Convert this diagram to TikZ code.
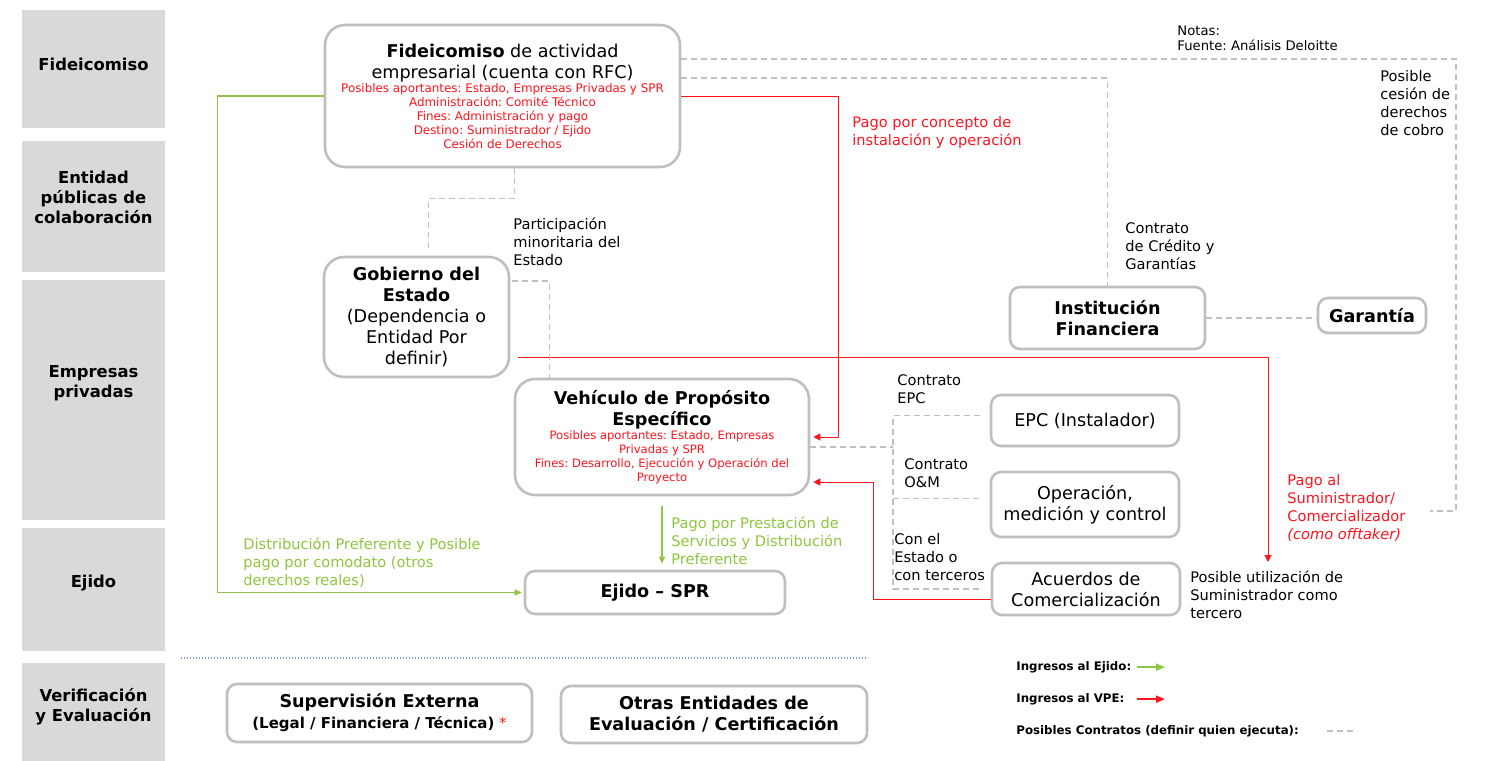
\documentclass[tikz,border=0pt]{standalone}
\usepackage{fontspec}
\setmainfont{DejaVu Sans}
\usetikzlibrary{arrows.meta,calc}
\frenchspacing

\definecolor{bandgray}{RGB}{217,217,217}
\definecolor{boxgray}{RGB}{191,191,191}
\definecolor{dashgray}{RGB}{192,192,192}
\definecolor{payred}{RGB}{255,20,30}
\definecolor{ejidogreen}{RGB}{141,198,63}
\definecolor{sepblue}{RGB}{120,150,210}

\tikzset{
  band/.style={fill=bandgray, inner sep=0pt, minimum width=71.5pt},
  bandlabel/.style={font=\bfseries\fontsize{8.2}{10}\selectfont, align=center, inner sep=0pt},
  entity/.style={draw=boxgray, line width=1.3pt, rounded corners=5pt, fill=white, align=flush center,
    inner sep=3pt, font=\fontsize{8.8}{10.5}\selectfont, execute at begin node={\parindent=0pt\frenchspacing}},
  bigentity/.style={entity, rounded corners=10pt},
  note/.style={anchor=north west, align=left, inner sep=0pt, font=\fontsize{7.3}{9}\selectfont},
  legendtxt/.style={anchor=north west, inner sep=0pt, font=\bfseries\fontsize{5.9}{7}\selectfont},
  contract/.style={draw=dashgray, line width=0.75pt, dash pattern=on 3pt off 2pt},
  ejidoflow/.style={draw=ejidogreen, line width=0.7pt, -{Triangle[length=3.5pt,width=3pt]}},
  vpeflow/.style={draw=payred, line width=0.5pt, -{Triangle[length=3.5pt,width=3.5pt]}},
}

\begin{document}
\begin{tikzpicture}[x=0.5pt,y=0.5pt,yscale=-1,xscale=1]
        \useasboundingbox (0,0) rectangle (1496,761);

        %Shape: Rectangle (row bands)
        \node[band, minimum height=59pt] (bandFid) at (93.5,69) {};
        \node[band, minimum height=65.5pt] (bandEnt) at (93.5,206.5) {};
        \node[band, minimum height=120pt] (bandEmp) at (93.5,400) {};
        \node[band, minimum height=61.5pt] (bandEji) at (93.5,589.5) {};
        \node[band, minimum height=49pt] (bandVer) at (93.5,712) {};
        % Text Node
        \node[bandlabel] (lblFid) at (93.5,64) {Fideicomiso};
        \node[bandlabel] (lblEnt) at (93.5,197) {Entidad\\públicas de\\colaboración};
        \node[bandlabel] (lblEmp) at (93.5,383) {Empresas\\privadas};
        \node[bandlabel] (lblEji) at (93.5,583) {Ejido};
        \node[bandlabel] (lblVer) at (93.5,707) {Verificación\\y Evaluación};

        %Shape: Rounded Rect
        \node[bigentity, text width=171.5pt, minimum height=71pt] (fid) at (502.5,96) {\textbf{Fideicomiso} de actividad\\ empresarial (cuenta con RFC)\par
          \leavevmode{\color{payred}\fontsize{5.95}{7}\selectfont Posibles aportantes: Estado, Empresas Privadas y SPR\\ Administración: Comité Técnico\\ Fines: Administración y pago\\ Destino: Suministrador / Ejido\\ Cesión de Derechos\par}};
        %Shape: Rounded Rect
        \node[bigentity, text width=86.5pt, minimum height=60pt] (gob) at (416.5,317) {\textbf{Gobierno del}\\ \textbf{Estado}\\ (Dependencia o\\ Entidad Por\\ definir)};
        %Shape: Rounded Rect
        \node[bigentity, text width=141pt, minimum height=58pt] (vpe) at (662,437) {\textbf{Vehículo de Propósito}\\ \textbf{Específico}\par
          \leavevmode{\color{payred}\fontsize{5.8}{7}\selectfont Posibles aportantes: Estado, Empresas\\ Privadas y SPR\\ Fines: Desarrollo, Ejecución y Operación del\\ Proyecto\par}};
        %Shape: Rounded Rect
        \node[entity, text width=124pt, minimum height=21.5pt] (ejido) at (655,592.5) {\textbf{Ejido – SPR}};
        \node[entity, text width=91.5pt, minimum height=31pt] (inst) at (1107.5,318) {\textbf{Institución}\\ \textbf{Financiera}};
        \node[entity, text width=48pt, minimum height=17.5pt] (gar) at (1372,315.5) {\textbf{Garantía}};
        \node[entity, text width=88pt, minimum height=25.5pt] (epc) at (1085,420.5) {EPC (Instalador)};
        \node[entity, text width=88pt, minimum height=32.5pt] (oper) at (1085,504.5) {Operación,\\ medición y control};
        \node[entity, text width=88pt, minimum height=26pt] (acu) at (1086,589) {Acuerdos de\\ Comercialización};
        \node[entity, text width=146.5pt, minimum height=29pt] (sup) at (379.5,713) {\textbf{Supervisión Externa}\\ {\fontsize{7.5}{9}\selectfont\textbf{(Legal / Financiera / Técnica)} {\color{payred}*}}};
        \node[entity, text width=147pt, minimum height=28.5pt] (otras) at (714,714.5) {\textbf{Otras Entidades de}\\ \textbf{Evaluación / Certificación}};

        %Straight Lines: payments to the VPE
        \draw[vpeflow, shorten >=1.5pt] (fid.east) -| ($(vpe.east)+(28,0)$) -- (vpe.east);
        \draw[vpeflow, shorten >=1.5pt] ($(acu.west)+(0,10)$) -| ($(vpe.east)+(63,45)$) -- ($(vpe.east)+(0,45)$);
        \coordinate (offtaker) at (1268,562);
        \draw[vpeflow] ($(gob.east)+(8,40)$) -| (offtaker);

        %Straight Lines: income to the Ejido
        \draw[ejidoflow, shorten >=1pt] (fid.west) -- ++(-106,0) |- (ejido.west);
        \draw[ejidoflow, shorten <=5pt, shorten >=3pt] (vpe.south) -- (vpe.south |- ejido.north);

        %Straight Lines: possible contracts
        \coordinate (cobroCorner) at (1456,511);
        \coordinate (cobro) at (1430,511);
        \draw[contract] ($(fid.east)+(0,-37)$) -| (cobroCorner) -- (cobro);
        \draw[contract] ($(fid.east)+(0,-18)$) -| (inst.north);
        \draw[contract] ($(fid.south)+(12,0)$) -- ++(0,30) -| ($(gob.north)+(12,-7)$);
        \draw[contract] ($(gob.east)+(2,-36)$) -| ($(vpe.north west)+(36,0)$);
        \coordinate (hub) at (893,447);
        \draw[contract] ($(vpe.east)+(0,10)$) -- (hub);
        \draw[contract] ($(epc.west)+(-10,-5)$) -| (hub |- acu.west) -- ($(acu.west)+(-10,0)$);
        \draw[contract] ($(hub |- oper.west)+(0,-6)$) -- ($(oper.west)+(-8,-6)$);
        \draw[contract] (inst.east) -- (inst.east -| gar.west);

        %Straight Lines: separator
        \draw[sepblue, line width=0.6pt, dash pattern=on 0.6pt off 0.9pt] (181,658) -- (868,658);

        % Text Node
        \node[note, font=\fontsize{6.6}{7.5}\selectfont] (notas) at (1177,25) {Notas:\\Fuente: Análisis Deloitte};
        % Text Node
        \node[note, text=payred] (pagoInst) at (852,116) {Pago por concepto de\\instalación y operación};
        % Text Node
        \node[note] (cesion) at (1380,70) {Posible\\cesión de\\derechos\\de cobro};
        % Text Node
        \node[note] (credito) at (1125,222) {Contrato\\de Crédito y\\Garantías};
        % Text Node
        \node[note] (minoritaria) at (513,217) {Participación\\minoritaria del\\Estado};
        % Text Node
        \node[note] (cEPC) at (897,374) {Contrato\\EPC};
        % Text Node
        \node[note] (cOM) at (904,458) {Contrato\\O\&M};
        % Text Node
        \node[note] (cTerceros) at (894,533) {Con el\\Estado o\\con terceros};
        % Text Node
        \node[note] (tercero) at (1190,570) {Posible utilización de\\Suministrador como\\tercero};
        % Text Node
        \node[note, text=payred] (pagoSum) at (1287,474) {Pago al\\Suministrador/\\Comercializador\\\textit{(como offtaker)}};
        % Text Node
        \node[note, text=ejidogreen] (distPref) at (243,537) {Distribución Preferente y Posible\\pago por comodato (otros\\derechos reales)};
        % Text Node
        \node[note, text=ejidogreen] (pagoServ) at (671,516) {Pago por Prestación de\\Servicios y Distribución\\Preferente};

        % Text Node (legend)
        \node[legendtxt] (legEjido) at (1016,661) {Ingresos al Ejido:};
        \node[legendtxt] (legVPE) at (1016,693) {Ingresos al VPE:};
        \node[legendtxt] (legContr) at (1016,725) {Posibles Contratos (definir quien ejecuta):};
        \coordinate (legArrow) at (1137,0);
        \draw[ejidoflow, line width=1pt, -{Triangle[length=4.5pt,width=3.5pt]}] (legArrow |- legEjido) -- ++(28,0);
        \draw[vpeflow, line width=1pt, -{Triangle[length=4.5pt,width=3.5pt]}] (legArrow |- legVPE) -- ++(28,0);
        \draw[contract] ($(legContr.east)+(28,0)$) -- ++(30,0);

\end{tikzpicture}
\end{document}
